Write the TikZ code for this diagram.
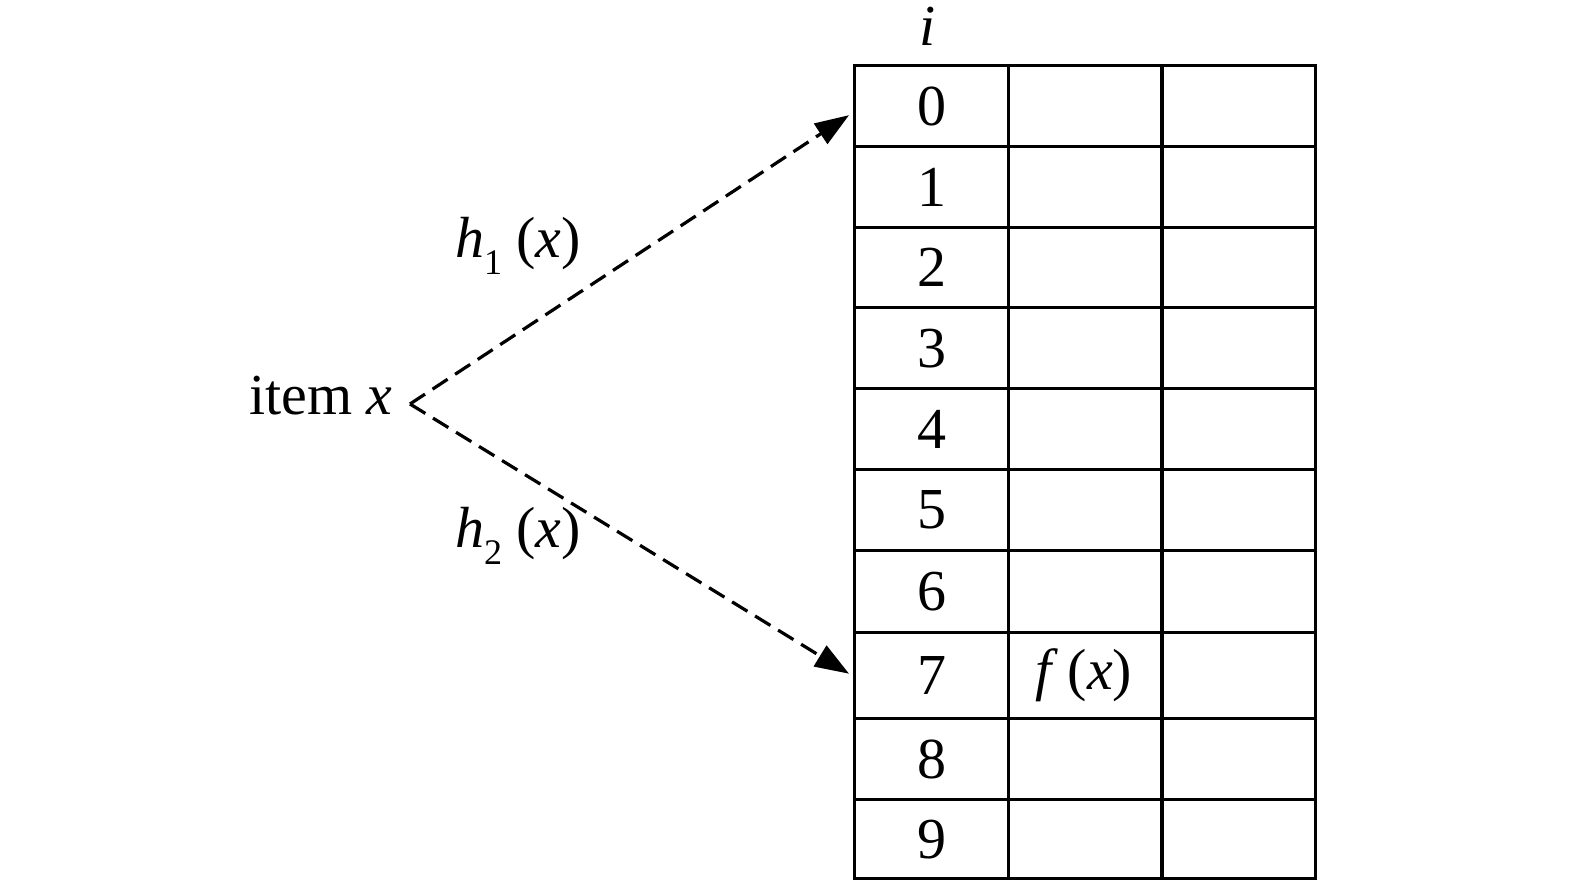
\documentclass[tikz,border=0pt]{standalone}
\usepackage{fontspec}
\setmainfont{Liberation Serif}
\usetikzlibrary{arrows.meta,calc}
\begin{document}
\begin{tikzpicture}[x=0.5pt,y=-0.5pt,
  cell/.style={draw,line width=1.7pt,inner sep=0pt,anchor=north west,minimum width=77pt,font=\fontsize{29}{34}\selectfont},
  lbl/.style={inner sep=0pt,font=\fontsize{29}{34}\selectfont},
  hash/.style={line width=1.6pt,dash pattern=on 9pt off 4.5pt,-{Triangle[length=17pt,width=12pt]}}]
\useasboundingbox (0,0) rectangle (1575,881);
\foreach \i/\t/\b in {0/64/145,1/145/226,2/226/306,3/306/387,4/387/468,5/468/549,6/549/631,7/631/717,8/717/798,9/798/877}{
  \node[cell,minimum height={(\b-\t)*0.5pt}] (c\i-0) at (853,\t) {\i};
  \node[cell,minimum height={(\b-\t)*0.5pt}] (c\i-1) at (1007,\t) {};
  \node[cell,minimum height={(\b-\t)*0.5pt}] (c\i-2) at (1160,\t) {};
}
\node[lbl] at ($(c7-1)+(-2,0)$) {\textit{f}\,(\textit{x})};
\node[lbl,anchor=base] (ilabel) at (928,46) {\textit{i}};
\node[lbl,anchor=base east] (item) at (393,415) {item \textit{x}};
\coordinate (start) at (410,404);
\draw[hash] (start) -- ($(c0-0.west)+(-4,9)$);
\draw[hash] (start) -- ($(c7-0.west)+(-4,-2)$);
\node[lbl] (h1) at (518,246) {\textit{h}\raisebox{-0.3em}{\fontsize{18}{20}\selectfont 1}\ (\textit{x})};
\node[lbl] (h2) at (518,536) {\textit{h}\raisebox{-0.3em}{\fontsize{18}{20}\selectfont 2}\ (\textit{x})};
\end{tikzpicture}
\end{document}
